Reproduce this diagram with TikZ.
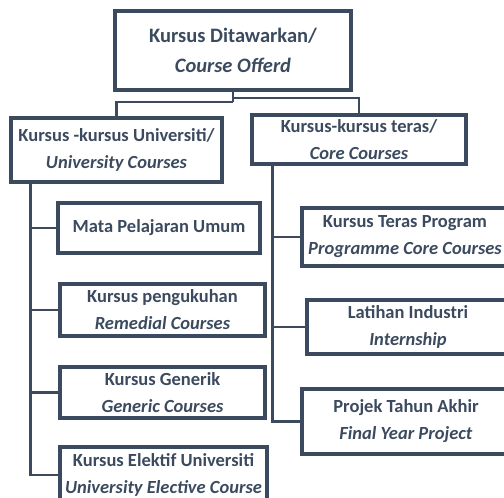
\documentclass[tikz,border=0pt]{standalone}
\usepackage{fontspec}
\setmainfont{Carlito}
\usepackage{xcolor}
\definecolor{garis}{HTML}{3B4A5E}

\begin{document}
\begin{tikzpicture}[x=1pt, y=-1pt,
	kotak/.style = {draw = garis, line width = 3.2pt, inner sep = 0pt, align = center,
		text = garis, font = \fontsize{18.5}{27}\selectfont\bfseries},
	sambung/.style = {draw = garis, line width = 2.2pt}]
	\useasboundingbox (0,0) rectangle (504,498);
	\clip (0,0) rectangle (504,498);
	% kotak utama
	\node [kotak, minimum width = 236pt, minimum height = 79pt, font = \fontsize{20.5}{30}\selectfont\bfseries] (tawar) at (233,50.5) {Kursus Ditawarkan/\\ \textit{Course Offerd}};
	% dua cabang
	\node [kotak, minimum width = 211pt, minimum height = 64pt] (univ) at (116.5,150) {Kursus -kursus Universiti/\\ \textit{University Courses}};
	\node [kotak, minimum width = 214pt, minimum height = 49pt] (teras) at (359,139.5) {Kursus-kursus teras/\\ \textit{Core Courses}};
	% kursus universiti
	\node [kotak, minimum width = 202pt, minimum height = 50pt] (umum) at (159,228) {Mata Pelajaran Umum};
	\node [kotak, minimum width = 205pt, minimum height = 52pt] (pengukuhan) at (162.5,310) {Kursus pengukuhan\\ \textit{Remedial Courses}};
	\node [kotak, minimum width = 205pt, minimum height = 51pt] (generik) at (162.5,392.5) {Kursus Generik\\ \textit{Generic Courses}};
	\node [kotak, minimum width = 207pt, minimum height = 56pt] (elektif) at (163.5,475) {Kursus Elektif Universiti\\ \textit{University Elective Course}};
	% kursus teras
	\node [kotak, minimum width = 206pt, minimum height = 58pt] (program) at (405,237) {Kursus Teras Program\\ \textit{Programme Core Courses}};
	\node [kotak, minimum width = 202pt, minimum height = 54pt] (latihan) at (408,327) {Latihan Industri\\ \textit{Internship}};
	\node [kotak, minimum width = 208pt, minimum height = 65pt] (projek) at (406,421.5) {Projek Tahun Akhir\\ \textit{Final Year Project}};
	% garis penyambung
	\draw [sambung] (tawar.south) -- ++(0,10) coordinate (simpang);
	\draw [sambung] (simpang) -| (univ.north);
	\draw [sambung] (simpang) ++(0,-4) -| (teras.north);
	\draw [sambung] (simpang) -- ++(0,-4);
	\draw [sambung] (univ.south west) ++(21,0) coordinate (batangU) |- (elektif.west);
	\draw [sambung] (batangU |- umum.west) -- (umum.west);
	\draw [sambung] (batangU |- pengukuhan.west) -- (pengukuhan.west);
	\draw [sambung] (batangU |- generik.west) -- (generik.west);
	\draw [sambung] (teras.south west) ++(22,0) coordinate (batangT) |- (projek.west);
	\draw [sambung] (batangT |- program.west) -- (program.west);
	\draw [sambung] (batangT |- latihan.west) -- (latihan.west);
\end{tikzpicture}
\end{document}
